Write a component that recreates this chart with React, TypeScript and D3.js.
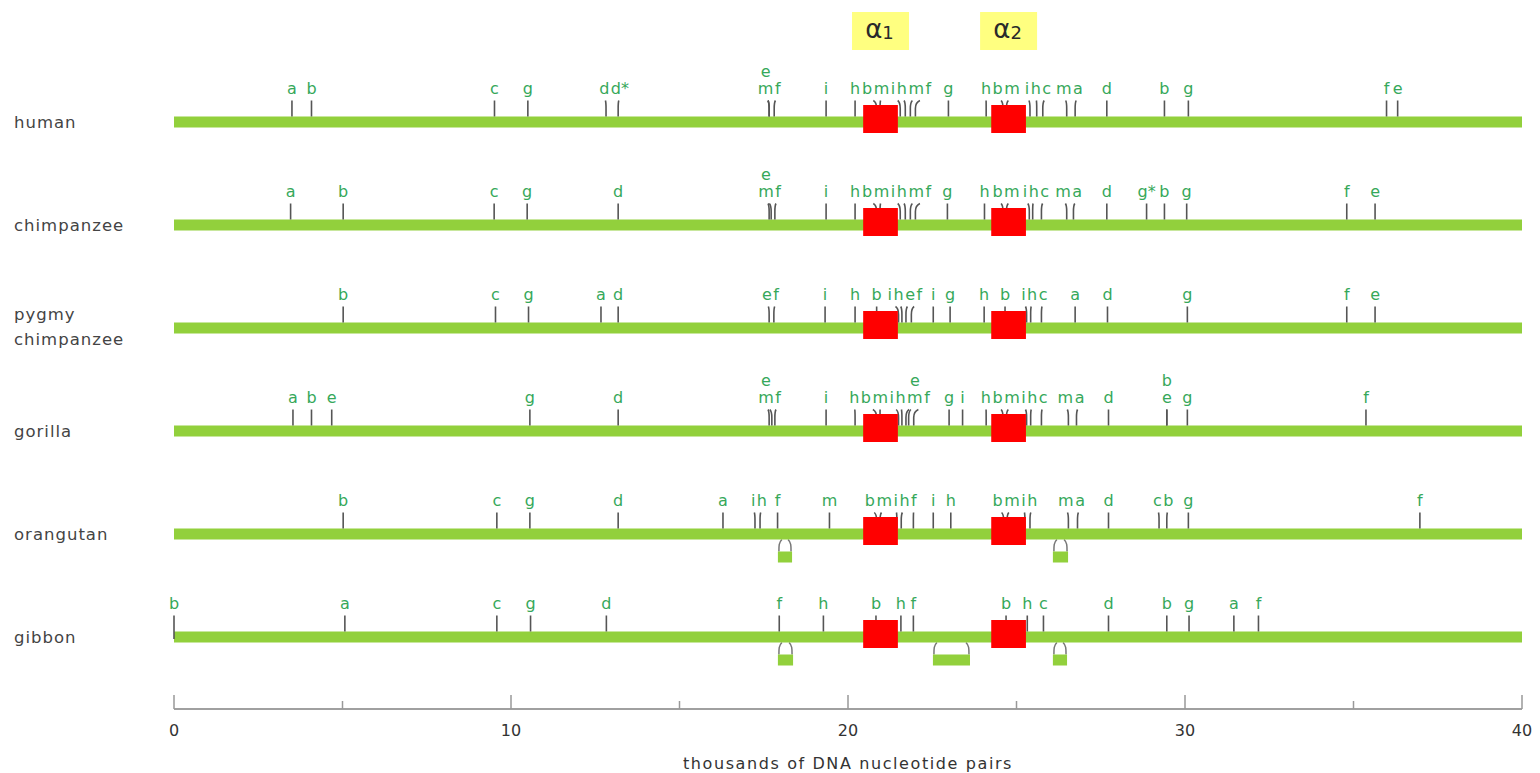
import React, { useMemo } from "react";
import * as d3 from "d3";

type Site = [number, string, number?];

// ---------- data ----------
const speciesNames = ["human", "chimpanzee", "pygmy chimpanzee", "gorilla", "orangutan", "gibbon"];

const humanSites: Site[] = [
  [3.5, "a"], [4.08, "b"], [9.51, "c"], [10.5, "g"], [12.82, "d"], [13.18, "d*"],
  [17.66, "m"], [17.66, "e", 1], [17.81, "f"], [19.35, "i"], [20.21, "h"],
  [20.85, "b"], [20.95, "m"], [21.55, "i"], [21.7, "h"], [21.85, "m"], [22.0, "f"],
  [22.98, "g"], [24.1, "h"], [24.6, "b"], [24.7, "m"], [25.4, "i"], [25.6, "h"], [25.78, "c"],
  [26.49, "m"], [26.74, "a"], [27.68, "d"], [29.39, "b"], [30.1, "g"], [35.98, "f"], [36.31, "e"],
];
const chimpanzeeSites: Site[] = [
  [3.46, "a"], [5.02, "b"], [9.5, "c"], [10.48, "g"], [13.18, "d"],
  [17.66, "m"], [17.72, "e", 1], [17.83, "f"], [19.35, "i"], [20.21, "h"],
  [20.85, "b"], [20.95, "m"], [21.55, "i"], [21.7, "h"], [21.85, "m"], [22.0, "f"],
  [22.95, "g"], [24.05, "h"], [24.6, "b"], [24.7, "m"], [25.38, "i"], [25.48, "h"], [25.74, "c"],
  [26.49, "m"], [26.69, "a"], [27.68, "d"], [28.86, "g*"], [29.39, "b"], [30.05, "g"], [34.8, "f"], [35.64, "e"],
];
const pygmySites: Site[] = [
  [5.02, "b"], [9.54, "c"], [10.52, "g"], [12.67, "a"], [13.18, "d"],
  [17.66, "e"], [17.8, "f"], [19.32, "i"], [20.21, "h"], [20.85, "b"],
  [21.5, "i"], [21.6, "h"], [21.72, "e"], [21.88, "f"], [22.53, "i"], [23.03, "g"],
  [24.04, "h"], [24.66, "b"], [25.3, "i"], [25.42, "h"], [25.74, "c"], [26.74, "a"], [27.7, "d"],
  [30.07, "g"], [34.8, "f"], [35.64, "e"],
];
const gorillaSites: Site[] = [
  [3.53, "a"], [4.08, "b"], [4.68, "e"], [10.56, "g"], [13.18, "d"],
  [17.66, "m"], [17.74, "e", 1], [17.83, "f"], [19.35, "i"], [20.21, "h"],
  [20.85, "b"], [20.95, "m"], [21.5, "i"], [21.6, "h"], [21.72, "e", 1], [21.8, "m"], [21.95, "f"],
  [23.0, "g"], [23.4, "i"], [24.1, "h"], [24.6, "b"], [24.7, "m"], [25.3, "i"], [25.42, "h"], [25.74, "c"],
  [26.54, "m"], [26.78, "a"], [27.73, "d"], [29.46, "e"], [29.46, "b", 1], [30.07, "g"], [35.37, "f"],
];
const orangutanSites: Site[] = [
  [5.02, "b"], [9.58, "c"], [10.56, "g"], [13.18, "d"], [16.29, "a"], [17.24, "i"], [17.39, "h"], [17.91, "f"],
  [19.45, "m"], [20.85, "b"], [20.95, "m"], [21.45, "i"], [21.58, "h"], [21.94, "f"], [22.53, "i"], [23.05, "h"],
  [24.62, "b"], [24.72, "m"], [25.25, "i"], [25.4, "h"], [26.54, "m"], [26.81, "a"], [27.73, "d"],
  [29.23, "c"], [29.46, "b"], [30.1, "g"], [36.97, "f"],
];
const gibbonSites: Site[] = [
  [0, "b"], [5.07, "a"], [9.58, "c"], [10.58, "g"], [12.83, "d"], [17.96, "f"], [19.27, "h"],
  [20.83, "b"], [21.57, "h"], [21.94, "f"], [24.69, "b"], [25.32, "h"], [25.8, "c"],
  [27.73, "d"], [29.46, "b"], [30.12, "g"], [31.45, "a"], [32.18, "f"],
];
const speciesSites: Site[][] = [humanSites, chimpanzeeSites, pygmySites, gorillaSites, orangutanSites, gibbonSites];

// extra DNA segments drawn below the line: [start kb, end kb]
const orangutanInserts: [number, number][] = [[17.92, 18.34], [26.08, 26.53]];
const gibbonInserts: [number, number][] = [[17.92, 18.37], [22.52, 23.62], [26.08, 26.5]];
const speciesInserts: [number, number][][] = [[], [], [], [], orangutanInserts, gibbonInserts];

const geneNames = ["1", "2"];
const geneSpans: [number, number][] = [[20.45, 21.48], [24.25, 25.28]];

const axisTicks = [0, 5, 10, 15, 20, 25, 30, 35, 40];
const axisLabels = [0, 10, 20, 30, 40];
const axisTitle = "thousands of DNA nucleotide pairs";

// ---------- styling ----------
const FONT = "'DejaVu Sans', Verdana, sans-serif";
const LETTER_SIZE = 16;
const GAP = 1.5;
const BAR_GREEN = "#92d03c";
const LETTER_GREEN = "#36a85a";
const TICK = "#555";

let measureCtx: CanvasRenderingContext2D | null = null;
function textW(s: string): number {
  if (!measureCtx) {
    const c = document.createElement("canvas");
    measureCtx = c.getContext("2d");
  }
  if (!measureCtx) return s.length * 9;
  measureCtx.font = `${LETTER_SIZE}px 'DejaVu Sans'`;
  return measureCtx.measureText(s).width;
}

type Placed = { siteX: number; label: string; level: number; lx: number };

function layoutRow(sites: Site[], x: (v: number) => number): Placed[] {
  const items = sites.map((s) => ({ siteX: x(s[0]), label: s[1], level: s[2] ?? 0, lx: x(s[0]) }));
  const base = items.filter((d) => d.level === 0).sort((a, b) => a.siteX - b.siteX);
  type Cl = { items: typeof base; offs: number[]; width: number; left: number };
  const clusters: Cl[] = [];
  const compute = (c: Cl) => {
    let acc = 0;
    c.offs = c.items.map((it, i) => {
      const w = textW(it.label);
      const o = acc + w / 2;
      acc += w + (i < c.items.length - 1 ? GAP : 0);
      return o;
    });
    c.width = acc;
    c.left = d3.mean(c.items.map((it, i) => it.siteX - c.offs[i])) as number;
  };
  for (const it of base) {
    const c: Cl = { items: [it], offs: [], width: 0, left: 0 };
    compute(c);
    clusters.push(c);
    while (clusters.length > 1) {
      const a = clusters[clusters.length - 2];
      const b = clusters[clusters.length - 1];
      if (a.left + a.width + GAP > b.left) {
        const m: Cl = { items: [...a.items, ...b.items], offs: [], width: 0, left: 0 };
        compute(m);
        clusters.splice(clusters.length - 2, 2, m);
      } else break;
    }
  }
  for (const c of clusters) c.items.forEach((it, i) => (it.lx = c.left + c.offs[i]));
  // stacked labels sit above the nearest base label
  items.filter((d) => d.level > 0).forEach((d) => {
    let best = base[0];
    for (const b of base) if (Math.abs(b.siteX - d.siteX) < Math.abs(best.siteX - d.siteX)) best = b;
    d.lx = best ? best.lx : d.siteX;
  });
  return items;
}

export default function App() {
  const width = 1540;
  const height = 773;
  const x = d3.scaleLinear().domain([0, 40]).range([174, 1522]);
  const rowY = d3.scaleLinear().domain([0, speciesNames.length - 1]).range([122, 637]);

  const rows = useMemo(() => speciesSites.map((s) => layoutRow(s, x)), []);

  const barH = 11;
  const axisY = 709;

  return (
    <svg
      width={width}
      height={height}
      style={{ position: "absolute", left: 0, top: 0, background: "#fff" }}
      fontFamily={FONT}
    >
      {/* gene name boxes */}
      {geneSpans.map((g, i) => {
        const cx = (x(g[0]) + x(g[1])) / 2;
        return (
          <g key={"gn" + i}>
            <rect x={cx - 28.5} y={12} width={57} height={38} fill="#ffff80" />
            <text x={cx - 1} y={38} textAnchor="middle" fontSize={26} fill="#2a2a2a">
              α
              <tspan fontSize={18} dy={1}>{geneNames[i]}</tspan>
            </text>
          </g>
        );
      })}

      {speciesNames.map((name, r) => {
        const cy = rowY(r);
        const barTop = cy - barH / 2;
        const barBot = cy + barH / 2;
        const lines = name.split(" ");
        const placed = rows[r];
        const inserts = speciesInserts[r];
        return (
          <g key={name}>
            {lines.length === 1 ? (
              <text x={14} y={cy + 6} fontSize={16.5} letterSpacing={1} fill="#444">
                {name}
              </text>
            ) : (
              lines.map((ln, k) => (
                <text key={k} x={14} y={cy - 8 + k * 25} fontSize={16.5} letterSpacing={1} fill="#444">
                  {ln}
                </text>
              ))
            )}

            {/* inserted segments */}
            {inserts.map((s, k) => {
              const x1 = x(s[0]);
              const x2 = x(s[1]);
              const bTop = cy + 17.5;
              const inset = 4;
              return (
                <g key={"ins" + k}>
                  <path
                    d={`M${x1 + inset},${barBot} C${x1 + 1},${barBot + 3} ${x1 + 1},${barBot + 6} ${x1 + 1},${bTop}`}
                    fill="none"
                    stroke="#777"
                    strokeWidth={1.5}
                  />
                  <path
                    d={`M${x2 - inset},${barBot} C${x2 - 1},${barBot + 3} ${x2 - 1},${barBot + 6} ${x2 - 1},${bTop}`}
                    fill="none"
                    stroke="#777"
                    strokeWidth={1.5}
                  />
                  <rect x={x1} y={bTop} width={x2 - x1} height={11} fill={BAR_GREEN} />
                </g>
              );
            })}

            <rect x={x(0)} y={barTop} width={x(40) - x(0)} height={barH} fill={BAR_GREEN} />

            {/* site ticks */}
            {placed.map((p, k) => {
              const dx = Math.max(-5, Math.min(5, (p.lx - p.siteX) * 0.35));
              const top = barTop - 16;
              const bottom = p.siteX <= x(0) + 0.5 ? cy + 2 : barTop;
              return (
                <path
                  key={"t" + k}
                  d={`M${p.siteX},${bottom} L${p.siteX},${barTop - 8} Q${p.siteX},${top + 2} ${p.siteX + dx},${top}`}
                  fill="none"
                  stroke={TICK}
                  strokeWidth={1.6}
                />
              );
            })}

            {/* gene boxes */}
            {geneSpans.map((g, k) => (
              <rect key={"g" + k} x={x(g[0])} y={cy - 17} width={x(g[1]) - x(g[0])} height={28} fill="#ff0000" />
            ))}

            {/* site letters */}
            {placed.map((p, k) => (
              <text
                key={"l" + k}
                x={p.lx}
                y={p.level === 0 ? cy - 28 : cy - 45}
                textAnchor="middle"
                fontSize={LETTER_SIZE}
                fill={LETTER_GREEN}
              >
                {p.label}
              </text>
            ))}
          </g>
        );
      })}

      {/* axis */}
      <line x1={x(0)} x2={x(40)} y1={axisY} y2={axisY} stroke="#a0a0a0" strokeWidth={2} />
      {axisTicks.map((t) => (
        <line
          key={"at" + t}
          x1={x(t)}
          x2={x(t)}
          y1={axisY}
          y2={t % 10 === 0 ? axisY - 14 : axisY - 8}
          stroke="#999"
          strokeWidth={1.5}
        />
      ))}
      {axisLabels.map((t) => (
        <text key={"al" + t} x={x(t)} y={736} textAnchor="middle" fontSize={16} fill="#333">
          {t}
        </text>
      ))}
      <text x={(x(0) + x(40)) / 2} y={769} textAnchor="middle" fontSize={16} letterSpacing={1.6} fill="#333">
        {axisTitle}
      </text>
    </svg>
  );
}
